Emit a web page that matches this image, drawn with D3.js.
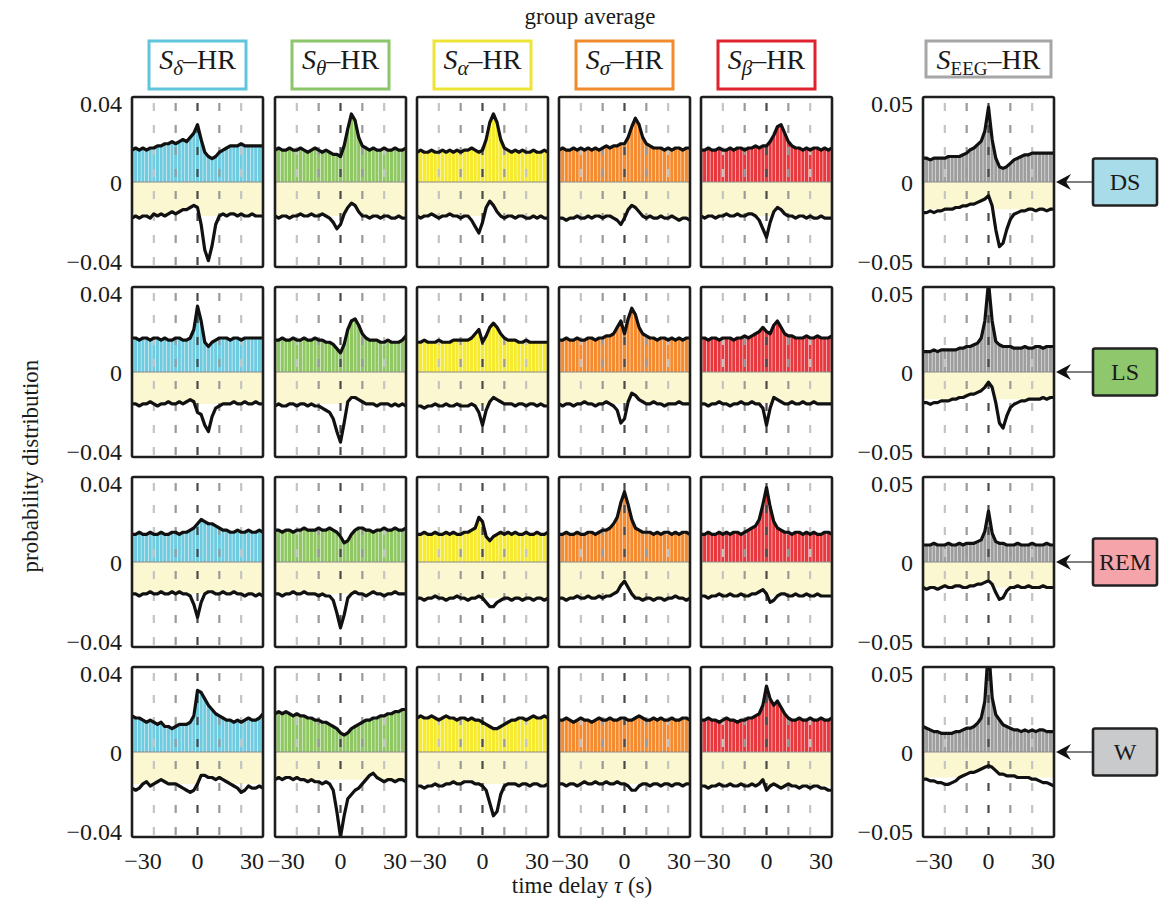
<!DOCTYPE html>
<html><head><meta charset="utf-8">
<script src="https://cdn.jsdelivr.net/npm/d3@7"></script>
<style>
body{margin:0;background:#fff}
svg{display:block}
text{font-family:"Liberation Serif","Times New Roman",serif;fill:#1a1a1a}
</style>
</head><body><svg id="c" width="1176" height="907"></svg>
<script>
// ---------- categories / ticks ----------
const tau = [-36,-34,-32,-30,-28,-26,-24,-22,-20,-18,-16,-14,-12,-10,-8,-6,-4,-2,0,2,4,6,8,10,12,14,16,18,20,22,24,26,28,30,32,34,36];
const stages = ["DS","LS","REM","W"];
const bandKeys = ["delta","theta","alpha","sigma","beta","eeg"];
const bandSubs = ["δ","θ","α","σ","β","EEG"];
const xTickValues = [-30,0,30];
const xTickLabels = ["−30","0","30"];
const gridTau = [-24,-12,0,12,24];
const yTickValuesBand = [0.04,0,-0.04];
const yTickLabelsBand = ["0.04","0","−0.04"];
const yTickValuesEEG = [0.05,0,-0.05];
const yTickLabelsEEG = ["0.05","0","−0.05"];
const UNIT = 0.001; // values below are in units of 10^-3

// ---------- series values (×10^-3) ----------
// DS
const DS_delta_pos=[15,16,15,16,15,16,16,17,17,18,18,19,18,19,20,19,21,23,27,20,14,12,11,12,14,15,16,17,17,17,18,17,17,17,17,17,17];
const DS_delta_neg=[-17,-16,-17,-16,-16,-17,-15,-16,-15,-16,-15,-14,-15,-14,-13,-13,-12,-11,-12,-20,-32,-37,-30,-20,-16,-15,-16,-15,-15,-16,-15,-16,-16,-15,-16,-16,-16];
const DS_theta_pos=[15,16,15,15,16,15,15,16,15,14,15,16,15,14,15,14,13,13,12,17,25,32,29,21,17,16,15,16,15,15,16,15,15,16,15,15,16];
const DS_theta_neg=[-16,-17,-16,-16,-17,-16,-16,-15,-16,-16,-15,-16,-16,-15,-16,-17,-19,-22,-20,-15,-12,-10,-11,-14,-16,-16,-17,-16,-16,-17,-16,-16,-17,-17,-16,-17,-17];
const DS_alpha_pos=[14,15,14,14,15,14,14,15,14,15,14,15,14,15,15,16,15,14,15,20,28,32,28,20,16,15,14,15,14,15,14,14,15,14,14,15,14];
const DS_alpha_neg=[-16,-17,-16,-16,-15,-16,-17,-16,-16,-15,-16,-16,-17,-16,-16,-18,-21,-24,-19,-12,-9,-11,-14,-16,-17,-16,-16,-17,-16,-16,-17,-17,-16,-17,-16,-17,-17];
const DS_sigma_pos=[15,16,15,15,16,15,16,15,16,15,16,15,16,17,16,17,17,18,18,21,26,30,27,21,18,17,16,16,16,15,16,15,16,16,15,16,16];
const DS_sigma_neg=[-17,-17,-18,-17,-17,-16,-17,-17,-16,-17,-16,-16,-17,-16,-16,-17,-18,-20,-17,-13,-11,-12,-14,-16,-17,-16,-17,-17,-16,-17,-17,-16,-17,-18,-17,-17,-18];
const DS_beta_pos=[15,15,16,15,15,16,15,15,16,15,16,16,15,16,16,17,16,17,17,19,22,26,27,23,19,17,16,16,15,16,15,16,16,15,16,15,16];
const DS_beta_neg=[-16,-17,-16,-16,-17,-16,-16,-15,-16,-16,-15,-16,-16,-15,-15,-16,-18,-22,-26,-19,-14,-12,-13,-15,-16,-16,-17,-16,-16,-17,-16,-17,-17,-16,-17,-17,-17];
const DS_eeg_pos=[14,14,13,14,14,14,14,15,15,15,15,16,17,19,20,22,24,30,44,25,14,9,8,9,11,13,14,15,16,16,17,17,17,17,17,17,17];
const DS_eeg_neg=[-18,-18,-17,-18,-17,-17,-16,-16,-16,-15,-15,-14,-14,-13,-13,-12,-11,-10,-8,-14,-28,-38,-36,-28,-22,-19,-18,-17,-17,-16,-16,-17,-16,-16,-17,-16,-16];
// LS
const LS_delta_pos=[16,16,15,16,16,15,16,16,15,16,15,15,16,16,15,15,16,20,31,24,14,12,14,15,16,16,16,15,16,16,15,16,16,16,16,16,16];
const LS_delta_neg=[-15,-15,-16,-15,-15,-14,-15,-16,-15,-15,-14,-15,-15,-14,-15,-14,-13,-14,-19,-20,-25,-28,-21,-17,-16,-15,-15,-15,-14,-15,-15,-14,-15,-15,-14,-15,-15];
const LS_theta_pos=[15,15,16,15,15,16,15,15,16,15,15,16,15,15,14,14,13,11,9,13,20,24,25,22,18,16,15,15,15,14,14,15,14,14,14,15,17];
const LS_theta_neg=[-16,-15,-16,-16,-15,-15,-16,-15,-15,-16,-15,-16,-16,-17,-18,-19,-22,-28,-33,-24,-14,-12,-12,-13,-14,-15,-15,-15,-16,-15,-15,-15,-16,-15,-16,-15,-16];
const LS_alpha_pos=[14,14,15,14,14,14,15,14,14,14,15,15,15,15,15,16,18,20,14,17,21,23,21,18,16,15,15,15,14,14,15,14,14,14,14,14,14];
const LS_alpha_neg=[-16,-16,-17,-16,-16,-15,-16,-16,-15,-16,-16,-15,-16,-16,-16,-15,-16,-19,-25,-18,-14,-12,-13,-14,-15,-15,-15,-16,-15,-15,-16,-15,-15,-16,-15,-16,-16];
const LS_sigma_pos=[15,15,16,15,15,16,15,15,16,16,15,16,16,17,17,18,21,24,18,25,30,27,21,18,17,16,16,15,16,16,15,16,15,16,15,16,16];
const LS_sigma_neg=[-15,-16,-15,-15,-16,-15,-15,-14,-15,-15,-16,-15,-15,-14,-15,-16,-18,-24,-22,-14,-10,-11,-13,-14,-15,-15,-14,-15,-15,-16,-15,-15,-15,-14,-15,-15,-15];
const LS_beta_pos=[16,16,15,16,16,15,16,16,16,15,16,16,17,16,17,18,19,21,19,18,22,24,21,18,17,17,16,16,16,17,16,16,17,16,16,16,17];
const LS_beta_neg=[-15,-15,-16,-15,-15,-14,-15,-15,-16,-15,-15,-14,-15,-15,-14,-15,-15,-17,-25,-17,-12,-13,-14,-15,-15,-14,-15,-15,-14,-15,-15,-14,-15,-15,-15,-15,-15];
const LS_eeg_pos=[12,12,12,13,12,13,13,13,13,13,14,14,15,15,16,17,20,30,53,30,18,16,15,15,15,14,14,14,15,14,14,15,15,14,15,15,15];
const LS_eeg_neg=[-18,-18,-19,-18,-18,-17,-17,-17,-16,-16,-15,-15,-14,-13,-13,-12,-11,-9,-6,-9,-18,-30,-33,-26,-21,-19,-18,-17,-17,-16,-16,-16,-16,-15,-16,-15,-15];
// REM
const REM_delta_pos=[13,13,14,13,13,14,13,13,14,13,13,14,14,13,14,14,15,16,18,20,19,18,18,17,16,15,15,14,14,15,14,14,15,14,14,15,14];
const REM_delta_neg=[-15,-15,-16,-15,-15,-14,-15,-15,-14,-15,-15,-14,-15,-14,-15,-15,-16,-20,-26,-19,-15,-14,-14,-15,-15,-14,-15,-15,-14,-15,-15,-16,-15,-15,-16,-15,-16];
const REM_theta_pos=[15,15,14,15,15,14,15,15,16,15,15,15,16,15,15,16,15,14,12,9,10,13,15,16,16,15,15,14,15,15,16,15,15,16,15,15,16];
const REM_theta_neg=[-15,-15,-16,-15,-15,-14,-15,-15,-14,-15,-15,-15,-16,-15,-16,-16,-18,-24,-31,-25,-17,-15,-14,-15,-15,-16,-15,-14,-15,-15,-16,-15,-15,-14,-15,-15,-15];
const REM_alpha_pos=[13,13,14,13,13,14,13,13,14,13,14,13,13,14,14,15,16,21,19,12,10,12,13,14,13,14,13,14,13,13,14,13,13,14,13,13,14];
const REM_alpha_neg=[-17,-17,-18,-17,-17,-16,-17,-17,-18,-17,-17,-16,-17,-17,-18,-17,-17,-16,-17,-19,-21,-21,-19,-18,-17,-17,-18,-17,-17,-18,-17,-17,-18,-17,-17,-18,-17];
const REM_sigma_pos=[13,13,14,13,13,14,13,13,14,14,13,14,15,15,16,18,21,28,33,27,20,16,15,14,14,14,13,14,13,14,14,13,14,13,14,14,13];
const REM_sigma_neg=[-17,-17,-18,-17,-17,-16,-17,-17,-16,-17,-17,-16,-17,-16,-16,-15,-14,-11,-9,-12,-15,-17,-17,-18,-17,-17,-18,-17,-17,-18,-17,-17,-16,-17,-17,-18,-17];
const REM_beta_pos=[13,13,14,13,13,14,13,14,13,14,14,13,14,15,16,17,20,27,35,26,19,16,15,14,14,13,14,14,13,14,13,14,13,13,14,14,13];
const REM_beta_neg=[-16,-16,-17,-16,-16,-15,-16,-16,-15,-16,-16,-15,-16,-16,-15,-15,-14,-13,-15,-19,-18,-16,-15,-15,-16,-16,-15,-16,-16,-15,-16,-16,-15,-16,-16,-16,-16];
const REM_eeg_pos=[10,10,10,11,10,10,10,11,10,10,11,10,11,11,11,12,13,18,30,17,12,11,11,10,10,10,11,10,10,10,11,10,10,10,11,10,10];
const REM_eeg_neg=[-15,-16,-15,-15,-16,-15,-14,-15,-15,-14,-14,-15,-15,-14,-14,-13,-13,-12,-11,-13,-18,-22,-21,-17,-15,-15,-14,-15,-15,-14,-15,-15,-15,-14,-15,-15,-15];
// W
const W_delta_pos=[17,16,16,15,14,15,14,13,14,12,12,11,12,13,13,13,14,17,29,28,25,22,20,18,17,16,15,15,14,15,14,15,16,15,15,16,18];
const W_delta_neg=[-17,-18,-17,-15,-14,-16,-15,-14,-13,-14,-15,-15,-15,-16,-17,-18,-19,-18,-15,-11,-11,-12,-12,-13,-12,-13,-14,-15,-16,-17,-19,-18,-16,-17,-17,-16,-17];
const W_theta_pos=[18,19,18,19,18,17,18,17,17,16,16,15,15,14,14,13,12,11,9,8,9,11,12,13,14,15,15,16,16,17,17,18,18,19,19,20,20];
const W_theta_neg=[-13,-12,-13,-12,-12,-13,-12,-13,-13,-14,-13,-14,-14,-15,-14,-15,-18,-28,-40,-30,-22,-20,-18,-17,-15,-13,-11,-10,-12,-13,-14,-13,-13,-14,-13,-13,-14];
const W_alpha_pos=[16,17,16,16,17,16,15,16,17,16,16,15,16,16,15,16,15,15,14,13,12,11,11,12,13,14,15,15,16,16,15,16,17,16,16,17,16];
const W_alpha_neg=[-16,-16,-17,-16,-16,-15,-16,-16,-15,-15,-14,-15,-15,-14,-14,-14,-15,-15,-16,-18,-24,-30,-28,-20,-16,-15,-15,-15,-16,-15,-15,-16,-15,-15,-16,-16,-15];
const W_sigma_pos=[15,15,16,15,14,15,16,15,15,14,15,16,15,15,16,15,15,16,16,15,15,16,17,16,15,15,16,15,16,15,15,16,15,15,16,16,15];
const W_sigma_neg=[-15,-15,-16,-15,-15,-16,-15,-14,-15,-15,-14,-15,-15,-14,-15,-15,-14,-15,-15,-16,-18,-18,-16,-15,-15,-16,-15,-15,-16,-15,-15,-16,-15,-15,-16,-15,-15];
const W_beta_pos=[15,15,16,15,15,14,15,16,15,15,14,15,15,16,16,17,18,22,31,25,22,24,21,18,16,15,15,16,15,15,16,15,15,16,15,15,16];
const W_beta_neg=[-16,-16,-17,-16,-16,-15,-16,-16,-15,-16,-16,-15,-16,-16,-15,-16,-15,-13,-18,-16,-15,-16,-17,-16,-15,-16,-16,-17,-16,-16,-17,-16,-16,-17,-17,-18,-18];
const W_eeg_pos=[15,14,13,12,12,11,11,11,11,12,12,13,14,14,15,17,20,30,62,32,22,19,16,15,14,13,13,12,13,12,13,12,13,13,12,12,12];
const W_eeg_neg=[-16,-16,-17,-17,-18,-18,-19,-19,-18,-17,-15,-14,-13,-12,-12,-11,-10,-9,-8,-9,-11,-13,-13,-14,-14,-14,-15,-15,-15,-15,-16,-16,-17,-18,-18,-19,-20];

const seriesTable = {
  DS:{delta:[DS_delta_pos,DS_delta_neg],theta:[DS_theta_pos,DS_theta_neg],alpha:[DS_alpha_pos,DS_alpha_neg],sigma:[DS_sigma_pos,DS_sigma_neg],beta:[DS_beta_pos,DS_beta_neg],eeg:[DS_eeg_pos,DS_eeg_neg]},
  LS:{delta:[LS_delta_pos,LS_delta_neg],theta:[LS_theta_pos,LS_theta_neg],alpha:[LS_alpha_pos,LS_alpha_neg],sigma:[LS_sigma_pos,LS_sigma_neg],beta:[LS_beta_pos,LS_beta_neg],eeg:[LS_eeg_pos,LS_eeg_neg]},
  REM:{delta:[REM_delta_pos,REM_delta_neg],theta:[REM_theta_pos,REM_theta_neg],alpha:[REM_alpha_pos,REM_alpha_neg],sigma:[REM_sigma_pos,REM_sigma_neg],beta:[REM_beta_pos,REM_beta_neg],eeg:[REM_eeg_pos,REM_eeg_neg]},
  W:{delta:[W_delta_pos,W_delta_neg],theta:[W_theta_pos,W_theta_neg],alpha:[W_alpha_pos,W_alpha_neg],sigma:[W_sigma_pos,W_sigma_neg],beta:[W_beta_pos,W_beta_neg],eeg:[W_eeg_pos,W_eeg_neg]}
};

// ---------- styles ----------
const barColors = {delta:"#6fcbe0",theta:"#8fc762",alpha:"#f5ea2c",sigma:"#f58b2e",beta:"#e8383e",eeg:"#9e9e9e"};
const boxColors = {delta:"#5ec5da",theta:"#8cc56a",alpha:"#ede437",sigma:"#f08a2c",beta:"#e0232f",eeg:"#a6a6a6"};
const stageFill = {DS:"#a8dce9",LS:"#8fc86c",REM:"#f5a4a9",W:"#c9cacc"};
const gridColors = ["#c4c4c4","#9a9a9a","#4a4a4a","#9a9a9a","#c4c4c4"];
const negFill = "#fbf8d1";

// ---------- layout ----------
const colX = [132,275,417,559,701,923];
const rowY = [97,287,477,667];
const PW = 131, PH = 170;

const svg = d3.select("#c");
const x = d3.scaleLinear().domain([-36,36]).range([0,PW]);
const yBand = d3.scaleLinear().domain([-0.04,0.04]).range([PH,0]);
const yEEG = d3.scaleLinear().domain([-0.05,0.05]).range([PH,0]);
const bw = (x(tau[1]) - x(tau[0])) * 0.86;

const defs = svg.append("defs");
defs.append("clipPath").attr("id","pclip").append("rect").attr("x",0).attr("y",0).attr("width",PW).attr("height",PH);

stages.forEach((st, r) => {
  bandKeys.forEach((bk, c) => {
    const y = bk === "eeg" ? yEEG : yBand;
    const [posRaw, negRaw] = seriesTable[st][bk];
    const pos = posRaw.map(v => v * UNIT);
    const neg = negRaw.map(v => v * UNIT);
    const med = d3.median(neg);
    const g = svg.append("g").attr("transform", `translate(${colX[c]},${rowY[r]})`);
    const inner = g.append("g").attr("clip-path","url(#pclip)");

    // negative band (light yellow)
    inner.append("path")
      .attr("fill", negFill)
      .attr("d", d3.area().x((d,i)=>x(tau[i])).y0(y(0)).y1(d=>y(Math.max(d, med)))
        .curve(d3.curveLinear)(neg));
    // positive bars
    inner.selectAll("rect.bar").data(pos).join("rect")
      .attr("class","bar")
      .attr("x",(d,i)=>x(tau[i]) - bw/2)
      .attr("width", bw)
      .attr("y", d => y(Math.max(d,0)))
      .attr("height", d => Math.abs(y(d) - y(0)))
      .attr("fill", barColors[bk]);
    // zero line
    inner.append("line").attr("x1",0).attr("x2",PW).attr("y1",y(0)).attr("y2",y(0))
      .attr("stroke","#8a8a8a").attr("stroke-width",1);
    // dashed grid
    gridTau.forEach((t,k) => {
      inner.append("line").attr("x1",x(t)).attr("x2",x(t)).attr("y1",0).attr("y2",PH)
        .attr("stroke",gridColors[k]).attr("stroke-width",2.2)
        .attr("stroke-dasharray","8 14").attr("stroke-dashoffset",-6);
    });
    // curves
    const line = d3.line().x((d,i)=>x(tau[i])).y(d=>y(d)).curve(d3.curveLinear);
    [pos, neg].forEach(s => {
      inner.append("path").attr("d", line(s)).attr("fill","none")
        .attr("stroke","#111").attr("stroke-width",3.2).attr("stroke-linejoin","round");
    });
    // frame
    g.append("rect").attr("x",0).attr("y",0).attr("width",PW).attr("height",PH)
      .attr("fill","none").attr("stroke","#1e1e1e").attr("stroke-width",2.6).attr("rx",1.5);

    // y tick labels
    if (c === 0 || c === 5) {
      const vals = c === 5 ? yTickValuesEEG : yTickValuesBand;
      const labs = c === 5 ? yTickLabelsEEG : yTickLabelsBand;
      vals.forEach((v,k) => {
        const yy = y(v) + (k === 0 ? 9 : k === 2 ? -3 : 3);
        g.append("text").attr("x",-10).attr("y",yy).attr("text-anchor","end")
          .attr("dominant-baseline","middle").attr("font-size",24).text(labs[k]);
      });
    }
    // x tick labels
    if (r === stages.length - 1) {
      xTickValues.forEach((v,k) => {
        g.append("text").attr("x",x(v)).attr("y",PH+32).attr("text-anchor","middle")
          .attr("font-size",24).text(xTickLabels[k]);
      });
    }
  });

  // stage label box + arrow
  const zy = rowY[r] + yEEG(0);
  const px = colX[5] + PW;
  const bx = 1093, bwid = 64, bh = 47;
  svg.append("line").attr("x1",bx).attr("x2",px+4).attr("y1",zy).attr("y2",zy)
    .attr("stroke","#555").attr("stroke-width",1.6);
  svg.append("path")
    .attr("d",`M${px+2},${zy} L${px+17},${zy-8} L${px+12},${zy} L${px+17},${zy+8} Z`)
    .attr("fill","#111");
  svg.append("rect").attr("x",bx).attr("y",zy-bh/2).attr("width",bwid).attr("height",bh)
    .attr("fill",stageFill[st]).attr("stroke","#222").attr("stroke-width",2.6).attr("rx",2);
  svg.append("text").attr("x",bx+bwid/2).attr("y",zy+8).attr("text-anchor","middle")
    .attr("font-size",24).text(st);
});

// column header boxes
bandKeys.forEach((bk,c) => {
  const cx = colX[c] + PW/2;
  const isEEG = bk === "eeg";
  const bwid = isEEG ? 125 : 97;
  const top = 41, bot = isEEG ? 77 : 89;
  svg.append("rect").attr("x",cx-bwid/2).attr("y",top).attr("width",bwid).attr("height",bot-top)
    .attr("fill","#fff").attr("stroke",boxColors[bk]).attr("stroke-width",3);
  const t = svg.append("text").attr("x",cx).attr("y",69).attr("text-anchor","middle").attr("font-size",28);
  t.append("tspan").attr("font-style","italic").text("S");
  const sub = t.append("tspan").attr("font-size",isEEG?19:21).attr("dy",6).text(bandSubs[c]);
  if (!isEEG) sub.attr("font-style","italic");
  t.append("tspan").attr("dy",-6).text("–HR");
});

// titles
svg.append("text").attr("x",590).attr("y",24).attr("text-anchor","middle").attr("font-size",23).text("group average");
const xl = svg.append("text").attr("x",582).attr("y",893).attr("text-anchor","middle").attr("font-size",23);
xl.append("tspan").text("time delay ");
xl.append("tspan").attr("font-style","italic").text("τ");
xl.append("tspan").text(" (s)");
svg.append("text").attr("transform","translate(38,466) rotate(-90)").attr("text-anchor","middle")
  .attr("font-size",23).text("probability distribution");
</script>
</body></html>
